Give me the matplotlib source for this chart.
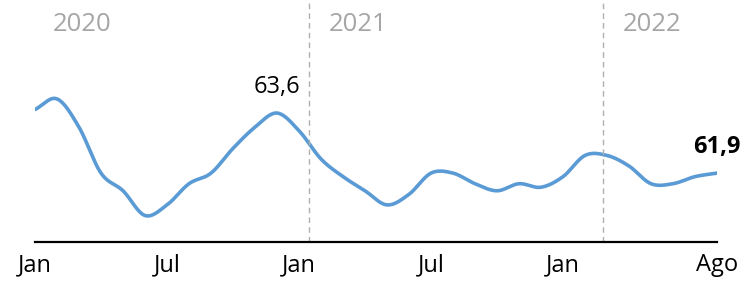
import matplotlib.pyplot as plt
import numpy as np

# monthly values, Jan 2020 .. Aug 2022
months = np.arange(32)
values = [63.7, 64.0, 63.2, 61.9, 61.4, 60.7, 61.0, 61.6, 61.9, 62.6, 63.2, 63.6,
          63.1, 62.3, 61.8, 61.4, 61.0, 61.3, 61.9, 61.9, 61.6, 61.4, 61.6, 61.5,
          61.8, 62.4, 62.4, 62.1, 61.6, 61.6, 61.8, 61.9]
tick_pos = [0, 6, 12, 18, 24, 31]
tick_labels = ['Jan', 'Jul', 'Jan', 'Jul', 'Jan', 'Ago']
years = ['2020', '2021', '2022']
year_x = [0.82, 13.36, 26.7]
year_breaks = [12.45, 25.8]
highlights = [11, 31]

plt.rcParams['font.family'] = ['Open Sans', 'DejaVu Sans']


def smooth(x, y, n=20):
    # catmull-rom spline through the points (like Excel "smoothed line")
    x = np.asarray(x, float)
    y = np.asarray(y, float)
    px = np.concatenate([[2 * x[0] - x[1]], x, [2 * x[-1] - x[-2]]])
    py = np.concatenate([[2 * y[0] - y[1]], y, [2 * y[-1] - y[-2]]])
    t = np.linspace(0, 1, n, endpoint=False)
    xs, ys = [], []
    for i in range(1, len(px) - 2):
        for p, out in ((px, xs), (py, ys)):
            p0, p1, p2, p3 = p[i - 1], p[i], p[i + 1], p[i + 2]
            out.extend(0.5 * (2 * p1 + (-p0 + p2) * t
                              + (2 * p0 - 5 * p1 + 4 * p2 - p3) * t ** 2
                              + (-p0 + 3 * p1 - 3 * p2 + p3) * t ** 3))
    xs.append(x[-1])
    ys.append(y[-1])
    return xs, ys


W, H = 743, 283
fig = plt.figure(figsize=(W / 100, H / 100), dpi=100)
ax = fig.add_axes([35 / W, (H - 242) / H, (717 - 35) / W, 242 / H])

sx, sy = smooth(months, values)
ax.plot(sx, sy, color='#5B9BD5', lw=2.6, solid_capstyle='round')

ax.set_xlim(0, 31)
ax.set_ylim(59.95, 66.8)

for xb in year_breaks:
    ax.axvline(xb, color='#AFAFAF', lw=1, ls=(0, (4, 3)))
for yr, xl in zip(years, year_x):
    ax.text(xl, 0.9, yr, transform=ax.get_xaxis_transform(), ha='left',
            va='center', fontsize=18.5, color='#A6A6A6')

for i in highlights:
    ax.annotate(f'{values[i]:.1f}'.replace('.', ','), (months[i], values[i]),
                xytext=(0, 19), textcoords='offset points', ha='center',
                va='center', fontsize=17, color='black',
                fontweight='bold' if i == highlights[-1] else 'normal')

ax.set_xticks(tick_pos)
ax.set_xticklabels(tick_labels, fontsize=17)
ax.tick_params(axis='x', length=0, pad=8)
ax.set_yticks([])
for s in ['left', 'top', 'right']:
    ax.spines[s].set_visible(False)
ax.spines['bottom'].set_linewidth(1.6)
ax.spines['bottom'].set_color('black')
ax.spines['bottom'].set_bounds(0, 31)

fig.savefig('out.png', dpi=100)
